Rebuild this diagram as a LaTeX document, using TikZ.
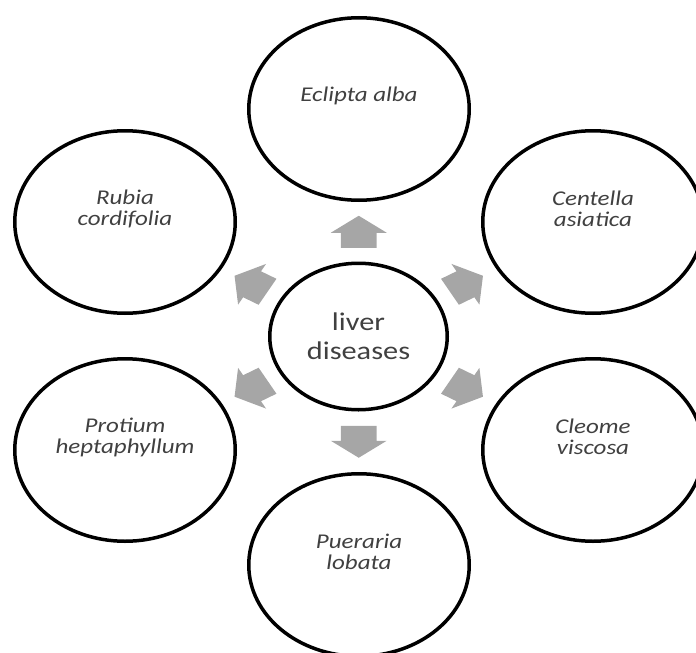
\documentclass[tikz,border=0pt]{standalone}
\usepackage{fontspec}
\setmainfont{Carlito}
\usetikzlibrary{shapes.geometric,calc}
\definecolor{arrowgray}{RGB}{166,166,166}
\definecolor{txtgray}{RGB}{64,64,64}

\begin{document}
\begin{tikzpicture}[x=1pt, y=-1pt,
	plant/.style={ellipse, draw, line width=3.5pt, minimum width=220.5pt, minimum height=182.5pt},
	hubnode/.style={ellipse, draw, line width=3.5pt, minimum width=177.5pt, minimum height=146.5pt},
	latin/.style={font=\fontsize{21}{21}\selectfont\itshape, text=txtgray, align=center, xscale=1.19},
	blockarrow/.pic={\fill[arrowgray] (-16,-15) -- (-1,-15) -- (-1,-23.5) -- (16,0) -- (-1,23.5) -- (-1,15) -- (-16,15) -- cycle;}]
	\useasboundingbox (0,0) rectangle (696,653);
	% centre and the six plants
	\node[hubnode] (hub) at (358.5,336.5) {};
	\node[font=\fontsize{25.5}{29}\selectfont, text=txtgray, align=center, xscale=1.19] (hubtxt) at (hub.center) {liver\\diseases};
	\node[plant] (eclipta) at (359,109) {};
	\node[plant] (centella) at (593,222) {};
	\node[plant] (cleome) at (593,450) {};
	\node[plant] (pueraria) at (359,565) {};
	\node[plant] (protium) at (125,450) {};
	\node[plant] (rubia) at (125,222) {};
	\node[latin] (eclipta-txt) at ([yshift=13pt]eclipta.center) {Eclipta alba};
	\node[latin] (centella-txt) at ([yshift=13pt]centella.center) {Centella\\asiatica};
	\node[latin] (cleome-txt) at ([yshift=13pt]cleome.center) {Cleome\\viscosa};
	\node[latin] (pueraria-txt) at ([yshift=13pt]pueraria.center) {Pueraria\\lobata};
	\node[latin] (protium-txt) at ([yshift=13pt]protium.center) {Protium\\heptaphyllum};
	\node[latin] (rubia-txt) at ([yshift=13pt]rubia.center) {Rubia\\cordifolia};
	% arrows out of the centre
	\pic[xscale=1.19, rotate=90] at ($(hub.90)!0.5!(eclipta.270)$) {blockarrow};
	\pic[xscale=1.19, rotate=30] at ($(hub.26)!0.5!(centella.206)$) {blockarrow};
	\pic[xscale=1.19, rotate=-30] at ($(hub.-26)!0.5!(cleome.154)$) {blockarrow};
	\pic[xscale=1.19, rotate=-90] at ($(hub.270)!0.5!(pueraria.90)$) {blockarrow};
	\pic[xscale=1.19, rotate=210] at ($(hub.206)!0.5!(protium.26)$) {blockarrow};
	\pic[xscale=1.19, rotate=150] at ($(hub.154)!0.5!(rubia.-26)$) {blockarrow};
\end{tikzpicture}
\end{document}
